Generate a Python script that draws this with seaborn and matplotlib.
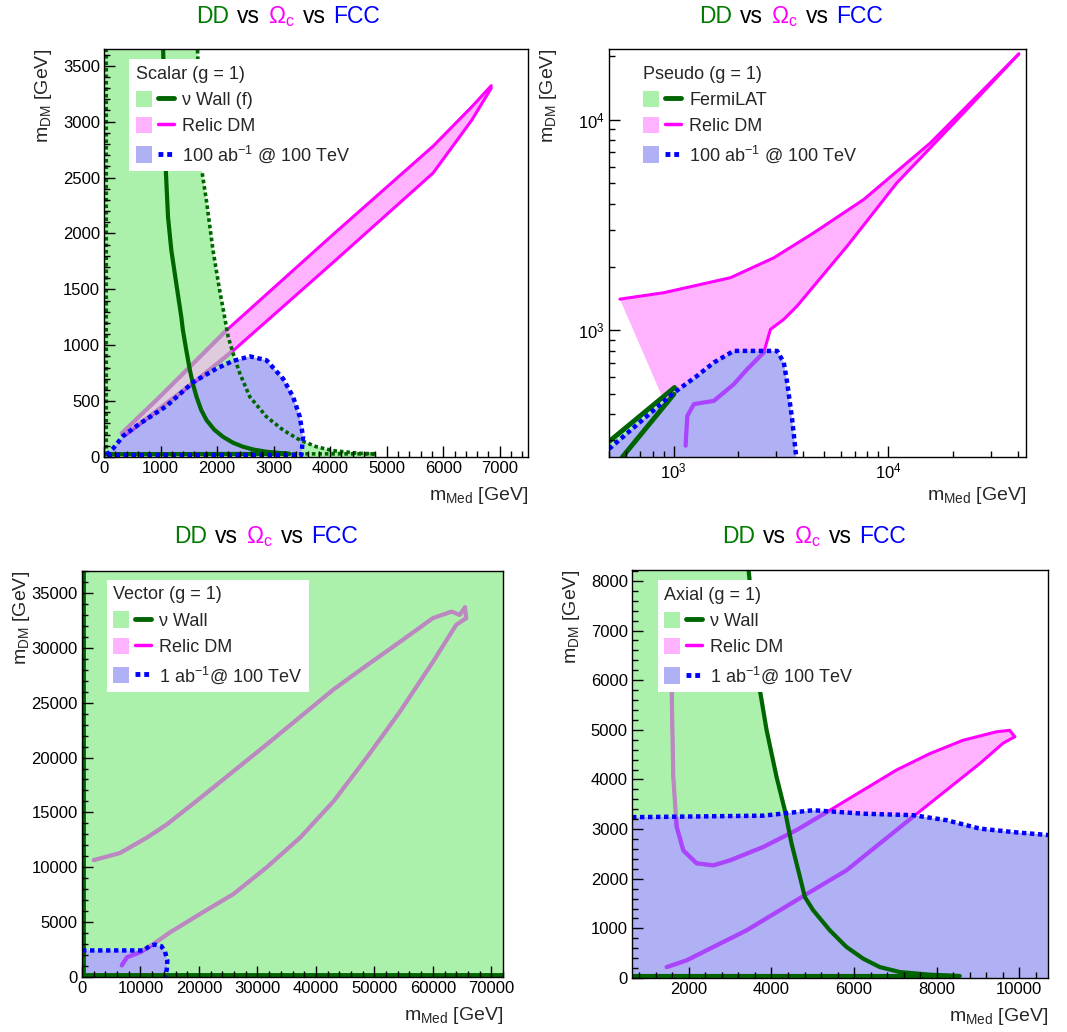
import matplotlib
matplotlib.use("Agg")
import matplotlib.pyplot as plt
import seaborn as sns
from matplotlib.patches import Patch
from matplotlib.lines import Line2D
from matplotlib.legend_handler import HandlerTuple
from matplotlib.ticker import MultipleLocator, LogLocator, NullFormatter

W, H = 1067, 1032

# ---------------- Scalar ----------------
scalar_wall_x = [1044, 1091, 1132, 1191, 1279, 1368, 1396, 1456, 1519, 1580, 1637, 1720, 1814, 1950, 2104, 2280, 2457, 2650, 2874, 3284, 30]
scalar_wall_y = [3700, 2590, 2150, 1850, 1550, 1250, 1134, 954, 777, 640, 538, 420, 330, 245, 181, 128, 92, 66, 47, 28, 25]
scalar_wallf_x = [1651, 1722, 1810, 1928, 2046, 2120, 2197, 2300, 2403, 2580, 2874, 3168, 3463, 3758, 4046, 4523, 4817, 40, 40]
scalar_wallf_y = [3700, 2590, 2300, 1850, 1490, 1290, 1074, 900, 747, 538, 360, 241, 152, 92, 57, 33, 28, 28, 3700]
scalar_relic_up_x = [313, 1000, 2168, 4051, 5820, 6500, 6850]
scalar_relic_up_y = [212, 545, 1134, 1990, 2780, 3130, 3322]
scalar_relic_lo_x = [6850, 6500, 5820, 4051, 2282, 1638, 371]
scalar_relic_lo_y = [3300, 3010, 2540, 1740, 950, 687, 196]
scalar_fcc_x = [47, 164, 341, 631, 1103, 1578, 1987, 2284, 2580, 2874, 3168, 3345, 3463, 3521, 3492, 47]
scalar_fcc_y = [18, 78, 190, 298, 455, 670, 790, 860, 900, 866, 700, 538, 360, 181, 18, 18]

# ---------------- Pseudo ----------------
pseudo_fermi_up_x = [500, 1010]
pseudo_fermi_up_y = [296, 535]
pseudo_fermi_lo_x = [1003, 577]
pseudo_fermi_lo_y = [497, 250]
pseudo_relic_up_x = [562, 902, 1841, 2929, 4494, 7674, 15680, 40560]
pseudo_relic_up_y = [1406, 1509, 1778, 2210, 2904, 4178, 7754, 20560]
pseudo_relic_lo_x = [40560, 22390, 10960, 6430, 4494, 3760, 3260, 2825, 2630, 2200, 1906, 1540, 1243, 1158, 1137]
pseudo_relic_lo_y = [20560, 10770, 5015, 2510, 1622, 1304, 1127, 1011, 784, 653, 554, 462, 446, 392, 283]
pseudo_relic_corner = (880, 489)
pseudo_fcc_x = [500, 1003, 1288, 1540, 1906, 3034, 3260, 3380, 3565, 3725]
pseudo_fcc_y = [273, 505, 608, 703, 798, 798, 703, 565, 378, 250]

# ---------------- Vector ----------------
vector_wall_x = [0, 80000, 80000, 0]
vector_wall_y = [0, 0, 40000, 40000]
vector_wall_edge_x = [80000, 150, 150]
vector_wall_edge_y = [150, 150, 40000]
vector_relic_up_x = [2000, 6500, 11100, 14500, 20200, 25900, 31600, 37300, 43000, 48700, 54400, 60000, 63200, 64600, 65500, 65700]
vector_relic_up_y = [10650, 11300, 12700, 13900, 16300, 18750, 21200, 23700, 26200, 28400, 30550, 32700, 33300, 33000, 33700, 32700]
vector_relic_lo_x = [65700, 64000, 60000, 54400, 48700, 43000, 37300, 31600, 25900, 20200, 15100, 12200, 10000, 7700, 6800]
vector_relic_lo_y = [32700, 32100, 28700, 24200, 20000, 16000, 12700, 10000, 7560, 5750, 4080, 3000, 2270, 1800, 1060]
vector_fcc_x = [0, 10500, 11700, 12500, 13600, 14200, 14600, 14500, 14200, 0]
vector_fcc_y = [2420, 2420, 2870, 2950, 2800, 2300, 1500, 700, 0, 0]

# ---------------- Axial ----------------
axial_wall_x = [3437, 3719, 3880, 4123, 4324, 4486, 4688, 4809, 5010, 5414, 5818, 6221, 6625, 7109, 7835, 8562, 8562, 620]
axial_wall_y = [8300, 5800, 5000, 4050, 3380, 2710, 2040, 1630, 1365, 960, 625, 390, 220, 120, 67, 40, 40, 40]
axial_relic_up_x = [1570, 1580, 1620, 1701, 1863, 2186, 2589, 2993, 3800, 4607, 5414, 6221, 7028, 7835, 8642, 9449, 9772, 9893]
axial_relic_up_y = [6500, 5870, 4050, 3050, 2570, 2310, 2270, 2370, 2640, 2980, 3380, 3785, 4190, 4520, 4790, 4960, 4990, 4860]
axial_relic_lo_x = [9893, 9611, 9046, 8239, 7432, 6625, 5818, 5010, 4203, 3396, 2589, 1944, 1460]
axial_relic_lo_y = [4860, 4730, 4320, 3785, 3250, 2710, 2170, 1770, 1365, 960, 625, 356, 220]
axial_fcc_x = [620, 3800, 5010, 6221, 7432, 8239, 9046, 9853, 10700]
axial_fcc_y = [3240, 3270, 3380, 3310, 3280, 3180, 3010, 2940, 2880]

GREEN_FILL = (0.67, 0.945, 0.67)
BLUE_FILL = (0.69, 0.69, 0.96)
PINK_FILL = (1.0, 0.70, 1.0)
PINK_IN_GREEN = (0.87, 0.80, 0.87)
DARK_GREEN = "#006400"
TITLE_GREEN = "#007a00"
MAGENTA = "#ff00ff"
RELIC_IN_GREEN = "#bb88c0"
RELIC_IN_BLUE = "#aa44ff"
BLUE = "#0000ff"
DOT = (0, (1, 0.8))

sns.set_style("ticks")
plt.rcParams["font.family"] = ["Liberation Sans", "DejaVu Sans"]
plt.rcParams["mathtext.fontset"] = "custom"
plt.rcParams["mathtext.rm"] = "Liberation Sans"
plt.rcParams["mathtext.it"] = "Liberation Sans:italic"
plt.rcParams["mathtext.bf"] = "Liberation Sans:bold"
plt.rcParams["mathtext.default"] = "regular"


def px_axes(l, t, r, b):
    return [l / W, 1 - b / H, (r - l) / W, (b - t) / H]


def fill(ax, xs, ys, color, z, clip=None):
    poly = ax.fill(xs, ys, facecolor=color, edgecolor="none", zorder=z)[0]
    if clip is not None:
        poly.set_clip_path(clip)
    return poly


def line(ax, xs, ys, color, lw, ls="-", z=5, clip=None):
    sns.lineplot(x=xs, y=ys, sort=False, estimator=None, color=color,
                 linewidth=lw, linestyle=ls, ax=ax, zorder=z)
    ln = ax.lines[-1]
    if clip is not None:
        ln.set_clip_path(clip)
    return ln


def relic(ax, lines_xy, green, blue, lw=2.2):
    # relic curves: magenta, muted where the wall fill lies over them, purple under the FCC fill
    for xs, ys in lines_xy:
        line(ax, xs, ys, MAGENTA, lw, z=2)
        line(ax, xs, ys, RELIC_IN_GREEN, lw + 0.8, z=2.1, clip=green)
        line(ax, xs, ys, RELIC_IN_BLUE, lw + 0.8, z=2.2, clip=blue)


def style(ax, xlim, ylim):
    ax.set_xlim(*xlim)
    ax.set_ylim(*ylim)
    ax.set_axisbelow(False)
    ax.xaxis.set_zorder(9)
    ax.yaxis.set_zorder(9)
    ax.tick_params(which="both", direction="in", top=False, right=False,
                   labelsize=12, width=1, pad=3, color="black", labelcolor="black")
    ax.tick_params(which="major", length=8)
    ax.tick_params(which="minor", length=4)
    for s in ax.spines.values():
        s.set_linewidth(1)
        s.set_color("black")
        s.set_zorder(8)
    ax.set_xlabel(r"m$_{Med}$ [GeV]", fontsize=14, loc="right")
    ax.set_ylabel(r"m$_{DM}$ [GeV]", fontsize=14, loc="top")
    bb = ax.get_position()
    ax.xaxis.set_label_coords(1.0, -28 / (bb.height * H))
    ax.yaxis.set_label_coords(-50 / (bb.width * W), 1.0)


def add_legend(ax, title, labels, x0, y0):
    handles = [
        (Patch(facecolor=GREEN_FILL, edgecolor="none"), Line2D([], [], color=DARK_GREEN, lw=3.5)),
        (Patch(facecolor=PINK_FILL, edgecolor="none"), Line2D([], [], color=MAGENTA, lw=2.5)),
        (Patch(facecolor=BLUE_FILL, edgecolor="none"), Line2D([], [], color=BLUE, lw=3.5, linestyle=DOT)),
    ]
    leg = ax.legend(handles, labels, title=title, loc="upper left", bbox_to_anchor=(x0, y0),
                    borderaxespad=0, frameon=True, fancybox=False, framealpha=1,
                    edgecolor="none", facecolor="white", fontsize=13, title_fontsize=13,
                    alignment="left", handlelength=2.1, handleheight=1.0,
                    handletextpad=0.45, labelspacing=0.45, borderpad=0.35,
                    handler_map={tuple: HandlerTuple(ndivide=None)})
    leg.set_zorder(10)


def draw_title(fig, cx, base_y):
    parts = [("DD", TITLE_GREEN), ("vs", "black"), (r"$\Omega_{c}$", MAGENTA),
             ("vs", "black"), ("FCC", BLUE)]
    r = fig.canvas.get_renderer()
    items = [fig.text(0, 0, s, color=c, fontsize=16.5, va="baseline") for s, c in parts]
    widths = [t.get_window_extent(r).width for t in items]
    gap = 8
    x = cx - (sum(widths) + gap * (len(items) - 1)) / 2
    for t, w in zip(items, widths):
        t.set_position((x / W, 1 - base_y / H))
        x += w + gap


fig = plt.figure(figsize=(W / 100, H / 100), dpi=100)

# ---- Scalar panel ----
ax1 = fig.add_axes(px_axes(104, 49, 528, 457))
s_wf_x = [0] + scalar_wallf_x[:17] + [4817, 0]
s_wf_y = [3700] + scalar_wallf_y[:17] + [0, 0]
g1 = fill(ax1, s_wf_x, s_wf_y, GREEN_FILL, 1)
s_relic_x = scalar_relic_up_x + scalar_relic_lo_x
s_relic_y = scalar_relic_up_y + scalar_relic_lo_y
fill(ax1, s_relic_x, s_relic_y, PINK_FILL, 1.2)
fill(ax1, s_relic_x, s_relic_y, PINK_IN_GREEN, 1.3, clip=g1)
b1 = fill(ax1, scalar_fcc_x, scalar_fcc_y, BLUE_FILL, 1.5)
relic(ax1, [(scalar_relic_up_x, scalar_relic_up_y), (scalar_relic_lo_x, scalar_relic_lo_y)], g1, b1)
line(ax1, scalar_wallf_x, scalar_wallf_y, DARK_GREEN, 2.6, DOT)
line(ax1, scalar_wall_x, scalar_wall_y, DARK_GREEN, 3)
line(ax1, scalar_fcc_x, scalar_fcc_y, BLUE, 3.2, DOT)
style(ax1, (0, 7500), (0, 3650))
ax1.xaxis.set_major_locator(MultipleLocator(1000))
ax1.xaxis.set_minor_locator(MultipleLocator(200))
ax1.yaxis.set_major_locator(MultipleLocator(500))
ax1.yaxis.set_minor_locator(MultipleLocator(100))
add_legend(ax1, "Scalar (g = 1)", ["ν Wall (f)", "Relic DM", r"100 ab$^{-1}$ @ 100 TeV"], 0.06, 0.975)

# ---- Pseudo panel ----
ax2 = fig.add_axes(px_axes(609, 49, 1026, 457))
ax2.set_xscale("log")
ax2.set_yscale("log")
g2 = fill(ax2, pseudo_fermi_up_x + pseudo_fermi_lo_x + [500], pseudo_fermi_up_y + pseudo_fermi_lo_y + [250], GREEN_FILL, 1)
fill(ax2, pseudo_relic_up_x + pseudo_relic_lo_x[1:] + [pseudo_relic_corner[0]],
     pseudo_relic_up_y + pseudo_relic_lo_y[1:] + [pseudo_relic_corner[1]], PINK_FILL, 1.2)
b2 = fill(ax2, pseudo_fcc_x + [500], pseudo_fcc_y + [250], BLUE_FILL, 1.5)
relic(ax2, [(pseudo_relic_up_x, pseudo_relic_up_y), (pseudo_relic_lo_x, pseudo_relic_lo_y)], g2, b2)
line(ax2, pseudo_fermi_up_x, pseudo_fermi_up_y, DARK_GREEN, 3.5)
line(ax2, pseudo_fermi_lo_x, pseudo_fermi_lo_y, DARK_GREEN, 3.5)
line(ax2, pseudo_fcc_x, pseudo_fcc_y, BLUE, 3.2, DOT)
style(ax2, (500, 43800), (250, 21700))
for axis in (ax2.xaxis, ax2.yaxis):
    axis.set_major_locator(LogLocator(base=10))
    axis.set_minor_locator(LogLocator(base=10, subs=range(2, 10)))
    axis.set_minor_formatter(NullFormatter())
add_legend(ax2, "Pseudo (g = 1)", ["FermiLAT", "Relic DM", r"100 ab$^{-1}$ @ 100 TeV"], 0.067, 0.975)

# ---- Vector panel ----
ax3 = fig.add_axes(px_axes(82, 571, 503, 977))
g3 = fill(ax3, vector_wall_x, vector_wall_y, GREEN_FILL, 1)
b3 = fill(ax3, vector_fcc_x, vector_fcc_y, BLUE_FILL, 1.5)
relic(ax3, [(vector_relic_up_x, vector_relic_up_y), (vector_relic_lo_x, vector_relic_lo_y)], g3, b3)
line(ax3, vector_wall_edge_x, vector_wall_edge_y, DARK_GREEN, 3.5)
line(ax3, vector_fcc_x[:-1], vector_fcc_y[:-1], BLUE, 3.2, DOT)
style(ax3, (0, 72000), (0, 37000))
ax3.xaxis.set_major_locator(MultipleLocator(10000))
ax3.xaxis.set_minor_locator(MultipleLocator(2000))
ax3.yaxis.set_major_locator(MultipleLocator(5000))
ax3.yaxis.set_minor_locator(MultipleLocator(1000))
add_legend(ax3, "Vector (g = 1)", ["ν Wall", "Relic DM", r"1 ab$^{-1}$@ 100 TeV"], 0.059, 0.978)

# ---- Axial panel ----
ax4 = fig.add_axes(px_axes(632, 570, 1048, 978))
g4 = fill(ax4, [600] + axial_wall_x[:16] + [8600, 600], [8300] + axial_wall_y[:16] + [0, 0], GREEN_FILL, 1)
fill(ax4, axial_relic_up_x[4:] + axial_relic_lo_x, axial_relic_up_y[4:] + axial_relic_lo_y, PINK_FILL, 1.2)
b4 = fill(ax4, [620] + axial_fcc_x + [10700], [0] + axial_fcc_y + [0], BLUE_FILL, 1.5)
relic(ax4, [(axial_relic_up_x, axial_relic_up_y), (axial_relic_lo_x, axial_relic_lo_y)], g4, b4)
line(ax4, axial_wall_x, axial_wall_y, DARK_GREEN, 3)
line(ax4, axial_fcc_x, axial_fcc_y, BLUE, 3.2, DOT)
style(ax4, (620, 10700), (0, 8220))
ax4.xaxis.set_major_locator(MultipleLocator(2000))
ax4.xaxis.set_minor_locator(MultipleLocator(400))
ax4.yaxis.set_major_locator(MultipleLocator(1000))
ax4.yaxis.set_minor_locator(MultipleLocator(200))
add_legend(ax4, "Axial (g = 1)", ["ν Wall", "Relic DM", r"1 ab$^{-1}$@ 100 TeV"], 0.0625, 0.975)

for cx, by in [(288, 23), (791, 23), (266, 543), (814, 543)]:
    draw_title(fig, cx, by)

fig.savefig("out.png", dpi=100)
